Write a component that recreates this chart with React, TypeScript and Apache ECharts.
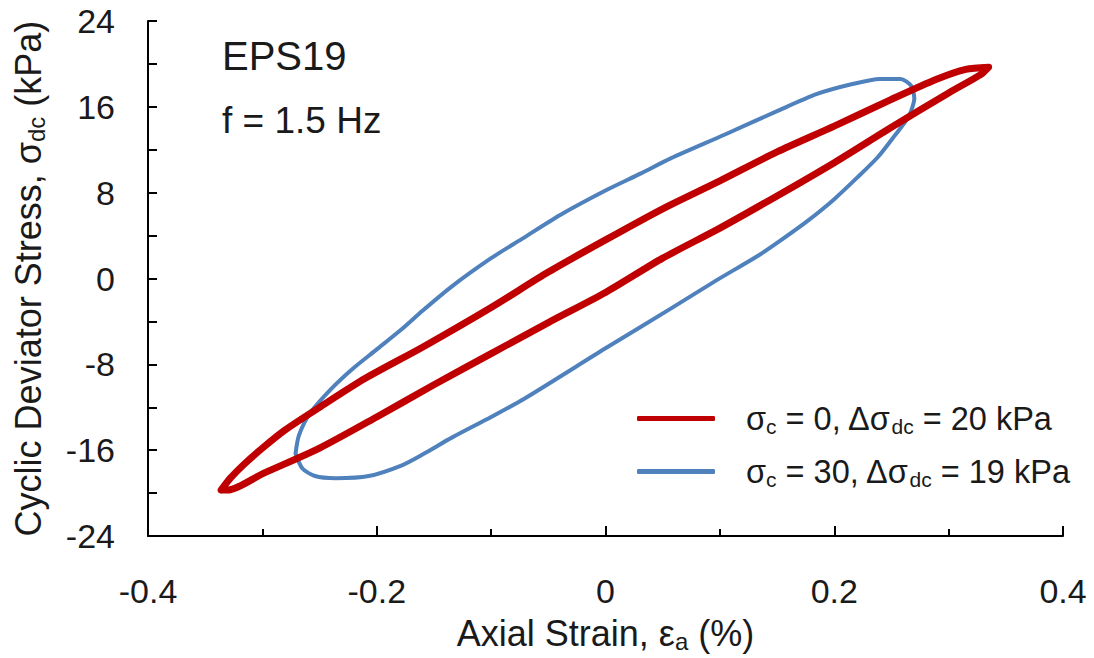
import React, { useEffect, useRef } from "react";
import * as echarts from "echarts";

const FONT = "'Liberation Sans', Arial, sans-serif";

// Red loop: sigma_c = 0, Δσdc = 20 kPa
const redStrain = [
  -0.336, -0.328, -0.316, -0.3, -0.28, -0.25, -0.21, -0.16, -0.1, -0.05, 0.0, 0.05, 0.1, 0.15, 0.2, 0.25, 0.29, 0.315, 0.335,
  0.328, 0.3, 0.25, 0.2, 0.15, 0.1, 0.05, 0.0, -0.05, -0.1, -0.15, -0.2, -0.25, -0.3, -0.33, -0.336,
];
const redStress = [
  -19.7, -18.6, -17.3, -15.8, -14.1, -12.0, -9.3, -6.4, -2.7, 0.6, 3.6, 6.5, 9.1, 11.8, 14.2, 16.7, 18.6, 19.5, 19.7,
  19.0, 17.3, 14.1, 10.8, 7.7, 4.7, 1.9, -1.3, -4.1, -7.0, -9.9, -12.9, -15.8, -18.2, -19.7, -19.7,
];

// Blue loop: sigma_c = 30, Δσdc = 19 kPa
const blueStrain = [
  -0.271, -0.268, -0.258, -0.24, -0.221, -0.2, -0.178, -0.16, -0.134, -0.1, -0.073, -0.04, 0.0, 0.031, 0.057, 0.104,
  0.15, 0.185, 0.215, 0.24, 0.258, 0.267, 0.27, 0.265, 0.252, 0.238, 0.22, 0.2, 0.177, 0.155, 0.133, 0.098, 0.057,
  0.0, -0.071, -0.1, -0.134, -0.16, -0.178, -0.207, -0.236, -0.254, -0.265, -0.271,
];
const blueStress = [
  -16.3, -14.6, -12.5, -10.3, -8.4, -6.6, -4.7, -3.0, -0.7, 1.9, 3.7, 5.9, 8.2, 9.8, 11.2, 13.4,
  15.6, 17.2, 18.1, 18.6, 18.6, 18.0, 16.8, 15.1, 13.2, 11.3, 9.4, 7.4, 5.4, 3.7, 2.1, -0.1, -2.8,
  -6.5, -11.2, -12.9, -14.8, -16.4, -17.4, -18.4, -18.6, -18.4, -17.7, -16.3,
];

const xTicks = { min: -0.4, max: 0.4, interval: 0.2 };
const yTicks = { min: -24, max: 24, interval: 8 };

const legendLabels: Record<string, string> = {
  red: "{n|σ}{s|c}{n| = 0, Δσ}{s|dc}{n| = 20 kPa}",
  blue: "{n|σ}{s|c}{n| = 30, Δσ}{s|dc}{n| = 19 kPa}",
};

const pairs = (xs: number[], ys: number[]) => xs.map((x, i) => [x, ys[i]]);

export default function App() {
  const ref = useRef<HTMLDivElement>(null);
  useEffect(() => {
    if (!ref.current) return;
    const chart = echarts.init(ref.current, undefined, { renderer: "svg" });
    const textColor = "#1a1a1a";
    const rich = {
      n: { fontSize: 32.5, fontFamily: FONT, color: textColor },
      s: { fontSize: 21, lineHeight: 21, fontFamily: FONT, color: textColor, padding: [16, 0, 0, 0] },
    };
    const titleRich = {
      n: { fontSize: 36, fontFamily: FONT, color: textColor },
      s: { fontSize: 24, lineHeight: 24, fontFamily: FONT, color: textColor, padding: [16, 0, 0, 0] },
    };
    const legendBase = {
      orient: "vertical",
      itemWidth: 78,
      itemHeight: 5,
      itemGap: 0,
      padding: 0,
      icon: "roundRect",
      textStyle: { fontSize: 32.5, fontFamily: FONT, color: textColor, padding: [0, 0, 0, 26], rich },
      formatter: (name: string) => legendLabels[name],
      selectedMode: false,
    };
    chart.setOption({
      animation: false,
      backgroundColor: "#ffffff",
      grid: { left: 145, right: 31, top: 21, bottom: 120 },
      xAxis: {
        type: "value",
        min: xTicks.min,
        max: xTicks.max,
        interval: xTicks.interval,
        name: "Axial Strain, {n|ε}{s|a}{n| (%)}",
        nameLocation: "middle",
        nameGap: 78,
        nameTextStyle: { fontSize: 36, fontFamily: FONT, color: textColor, rich: titleRich },
        axisLine: { onZero: false, lineStyle: { color: "#000", width: 2 } },
        axisTick: { inside: true, length: 10, lineStyle: { color: "#000", width: 2 } },
        minorTick: { show: true, splitNumber: 2, length: 7, lineStyle: { color: "#000", width: 2 } },
        splitLine: { show: false },
        axisLabel: { fontSize: 34, fontFamily: FONT, color: textColor, margin: 38 },
      },
      yAxis: {
        type: "value",
        min: yTicks.min,
        max: yTicks.max,
        interval: yTicks.interval,
        name: "Cyclic Deviator Stress, {n|σ}{s|dc}{n| (kPa)}",
        nameLocation: "middle",
        nameRotate: 90,
        nameGap: 102,
        nameTextStyle: { fontSize: 36, fontFamily: FONT, color: textColor, rich: titleRich },
        axisLine: { onZero: false, lineStyle: { color: "#000", width: 2 } },
        axisTick: { inside: true, length: 9, lineStyle: { color: "#000", width: 2 } },
        minorTick: { show: true, splitNumber: 2, length: 9, lineStyle: { color: "#000", width: 2 } },
        splitLine: { show: false },
        axisLabel: { fontSize: 34, fontFamily: FONT, color: textColor, margin: 33 },
      },
      legend: [
        { ...legendBase, data: ["red"], left: 637, top: 400 },
        { ...legendBase, data: ["blue"], left: 637, top: 453 },
      ],
      graphic: [
        {
          type: "text",
          style: { text: "EPS19", x: 222, y: 56, font: `40px ${FONT}`, fill: textColor, verticalAlign: "middle" },
        },
        {
          type: "text",
          style: { text: "f = 1.5 Hz", x: 222, y: 120, font: `37px ${FONT}`, fill: textColor, verticalAlign: "middle" },
        },
      ],
      series: [
        {
          name: "blue",
          type: "line",
          data: pairs(blueStrain, blueStress),
          showSymbol: false,
          smooth: 0.25,
          lineStyle: { color: "#4F81BD", width: 4, cap: "round", join: "round" },
          itemStyle: { color: "#4F81BD" },
          z: 2,
        },
        {
          name: "red",
          type: "line",
          data: pairs(redStrain, redStress),
          showSymbol: false,
          smooth: 0.25,
          lineStyle: { color: "#C00000", width: 7, cap: "round", join: "round" },
          itemStyle: { color: "#C00000" },
          z: 3,
        },
      ],
    });
    return () => chart.dispose();
  }, []);
  return <div ref={ref} style={{ position: "absolute", left: 0, top: 0, width: 1094, height: 658 }} />;
}
